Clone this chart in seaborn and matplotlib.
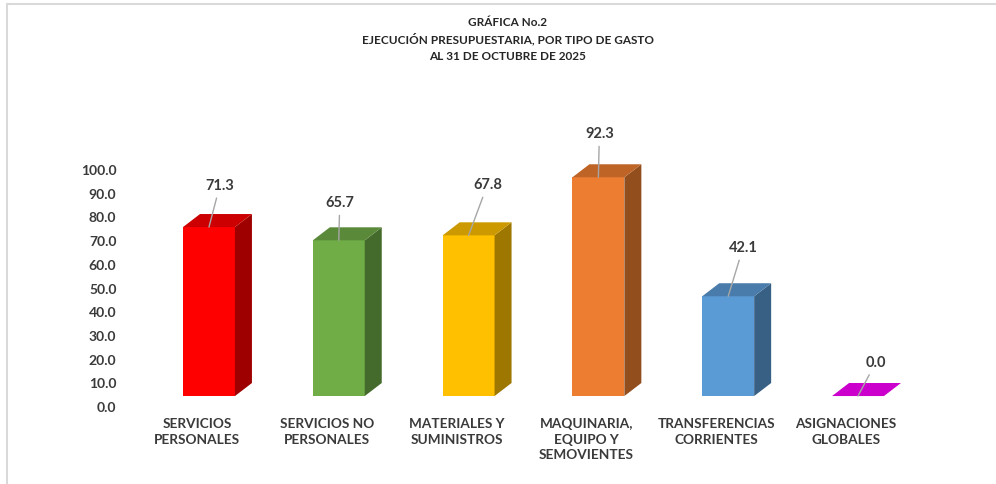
import numpy as np
import pandas as pd
import matplotlib.pyplot as plt
import matplotlib.colors as mcolors
from matplotlib.patches import Polygon
from matplotlib.lines import Line2D
from matplotlib.transforms import ScaledTranslation
import seaborn as sns

# data
categories = ['SERVICIOS\nPERSONALES', 'SERVICIOS NO\nPERSONALES', 'MATERIALES Y\nSUMINISTROS',
              'MAQUINARIA,\nEQUIPO Y\nSEMOVIENTES', 'TRANSFERENCIAS\nCORRIENTES', 'ASIGNACIONES\nGLOBALES']
values = [71.3, 65.7, 67.8, 92.3, 42.1, 0.0]
bar_colors = ['#FF0000', '#70AD47', '#FFC000', '#ED7D31', '#5B9BD5', '#FF00FF']
title_lines = ['GRÁFICA No.2', 'EJECUCIÓN PRESUPUESTARIA, POR TIPO DE GASTO', 'AL 31 DE OCTUBRE DE 2025']
yticks = np.arange(0, 101, 10)

# label nudges (pixels) like the hand-placed labels of the original
label_offsets = [(11, 42), (1, 38), (19, 51), (1, 44), (15, 49), (18, 34)]

sns.set_style('white')
plt.rcParams['font.family'] = ['Lato', 'DejaVu Sans']
plt.rcParams['font.weight'] = 'bold'
text_color = '#3A3A3A'

df = pd.DataFrame({'cat': categories, 'val': values})

fig = plt.figure(figsize=(9.96, 4.85), dpi=100)
ax = fig.add_axes([0.1225, 0.16082, 0.8432, 0.6597])

sns.barplot(data=df, x='cat', y='val', hue='cat', palette=bar_colors, width=0.4,
            saturation=1, legend=False, ax=ax, linewidth=0)

ax.set_xlim(-0.67, 5.8)
ax.set_ylim(0, 135)

# fake 3D: the front face sits on a floor, with a shaded side and top
floor = 4.2
dx, dy = 0.131, 5.5


def shade(c, f):
    r, g, b = mcolors.to_rgb(c)
    return (r * f, g * f, b * f)


for i, (p, v) in enumerate(zip(ax.patches, values)):
    x0, w, h = p.get_x(), p.get_width(), p.get_height()
    p.set_y(floor)
    c = bar_colors[i]
    top = floor + h
    side = Polygon([(x0 + w, floor), (x0 + w + dx, floor + dy), (x0 + w + dx, top + dy), (x0 + w, top)],
                   closed=True, facecolor=shade(c, 0.62), edgecolor='none')
    cap = Polygon([(x0, top), (x0 + dx, top + dy), (x0 + w + dx, top + dy), (x0 + w, top)],
                  closed=True, facecolor=shade(c, 0.8), edgecolor='none')
    ax.add_patch(side)
    ax.add_patch(cap)
    ox, oy = label_offsets[i]
    ax.annotate(f'{v:.1f}', xy=(x0 + w / 2, top), xytext=(ox, oy), textcoords='offset pixels',
                ha='center', va='center', fontsize=10.5, fontweight='bold', color=text_color,
                arrowprops=dict(arrowstyle='-', color='#A6A6A6', lw=1, shrinkA=2, shrinkB=0))

ax.set_yticks(yticks)
ax.set_yticklabels([f'{t:.1f}' for t in yticks])
ax.tick_params(axis='y', length=0, pad=4, labelsize=10, labelcolor=text_color)
ax.tick_params(axis='x', length=0, pad=8, labelsize=9.8, labelcolor=text_color)
shift = ScaledTranslation(-12 / 100, 0, fig.dpi_scale_trans)
for lbl in ax.get_xticklabels():
    lbl.set_transform(lbl.get_transform() + shift)
    lbl.set_fontweight('bold')
    lbl.set_linespacing(1.35)
for lbl in ax.get_yticklabels():
    lbl.set_fontweight('bold')
ax.set_xlabel('')
ax.set_ylabel('')
sns.despine(ax=ax, left=True, bottom=True)

for k, line in enumerate(title_lines):
    fig.text(0.51, 1 - (22 + 17.5 * k) / 485, line, ha='center', va='center',
             fontsize=8.5, fontweight='bold', color='#262626')

# thin frame of the source picture
fig.add_artist(Line2D([7 / 996, 1], [1 - 4.5 / 485, 1 - 4.5 / 485], color='#D9D9D9', lw=1.5))
fig.add_artist(Line2D([7 / 996, 7 / 996], [0, 1 - 4.5 / 485], color='#D9D9D9', lw=1.5))

fig.savefig('out.png', dpi=100)
